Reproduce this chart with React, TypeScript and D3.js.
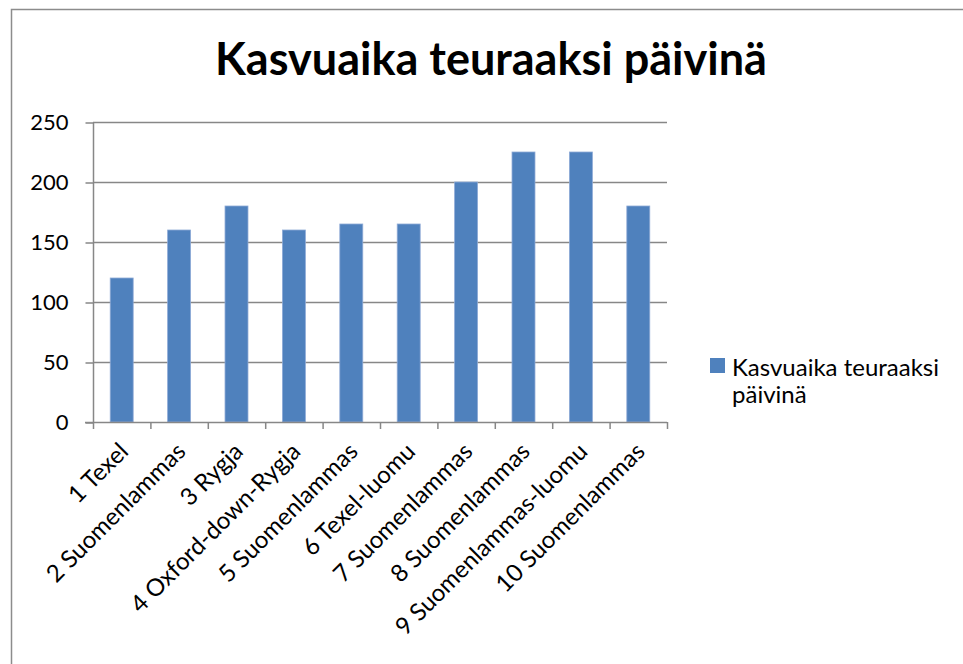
import React, {useEffect, useRef} from 'react';
import * as d3 from 'd3';

const categories = ['1 Texel', '2 Suomenlammas', '3 Rygja', '4 Oxford-down-Rygja', '5 Suomenlammas', '6 Texel-luomu', '7 Suomenlammas', '8 Suomenlammas', '9 Suomenlammas-luomu', '10 Suomenlammas'];
const values = [120, 160, 180, 160, 165, 165, 200, 225, 225, 180];
const yTicks = [0, 50, 100, 150, 200, 250];
const title = 'Kasvuaika teuraaksi päivinä';
const seriesName = ['Kasvuaika teuraaksi', 'päivinä'];

const FONT = 'Lato, "Open Sans", sans-serif';

export default function App() {
  const svgRef = useRef<SVGSVGElement>(null);

  useEffect(() => {
    const svg = d3.select(svgRef.current);
    svg.selectAll('*').remove();

    // chart frame
    svg.append('rect')
      .attr('x', 11.5).attr('y', 9.5).attr('width', 1000).attr('height', 1000)
      .attr('fill', '#fff').attr('stroke', '#8c8c8c').attr('stroke-width', 1.5);

    const left = 93, right = 667, top = 122, bottom = 422;
    const x = d3.scaleBand().domain(categories).range([left, right]).paddingInner(0.6).paddingOuter(0.3);
    const xb = d3.scaleBand().domain(categories).range([left, right]);
    const y = d3.scaleLinear().domain([0, 250]).range([bottom, top]);

    svg.append('text')
      .attr('x', 491).attr('y', 75)
      .attr('text-anchor', 'middle')
      .style('font-family', FONT).style('font-weight', 700).style('font-size', '45px')
      .text(title);

    // gridlines
    svg.append('g').selectAll('line').data(yTicks.filter(d => d > 0)).join('line')
      .attr('x1', left).attr('x2', right)
      .attr('y1', d => y(d) + 0.5).attr('y2', d => y(d) + 0.5)
      .attr('stroke', '#878787').attr('stroke-width', 1.5);

    svg.append('g').selectAll('rect').data(values).join('rect')
      .attr('x', (d, i) => x(categories[i])!)
      .attr('width', x.bandwidth())
      .attr('y', d => y(d))
      .attr('height', d => bottom - y(d))
      .attr('fill', '#4f81bd')
      .attr('stroke', '#8eaad6').attr('stroke-width', 0.8);

    // y axis
    const yAxis = svg.append('g').attr('transform', `translate(${left + 0.5},0.5)`)
      .call(d3.axisLeft(y).tickValues(yTicks).tickSize(8).tickPadding(17));
    yAxis.select('.domain').attr('stroke', '#878787').attr('stroke-width', 1.5).attr('d', `M0,${top}V${bottom}`);
    yAxis.selectAll('.tick line').attr('stroke', '#878787').attr('stroke-width', 1.5);
    yAxis.selectAll('.tick text').style('font-family', FONT).style('font-size', '22px').attr('fill', '#000');

    // x axis
    const xg = svg.append('g');
    xg.append('line').attr('x1', left - 8).attr('x2', right).attr('y1', bottom + 0.5).attr('y2', bottom + 0.5)
      .attr('stroke', '#878787').attr('stroke-width', 1.5);
    const bounds = categories.map(c => xb(c)!).concat([right]);
    xg.selectAll('line.tk').data(bounds).join('line').attr('class', 'tk')
      .attr('x1', d => d + 0.5).attr('x2', d => d + 0.5)
      .attr('y1', bottom).attr('y2', bottom + 7)
      .attr('stroke', '#878787').attr('stroke-width', 1.5);
    xg.selectAll('text').data(categories).join('text')
      .attr('transform', c => `translate(${xb(c)! + xb.bandwidth() / 2 + 2},${bottom + 25}) rotate(-45)`)
      .attr('text-anchor', 'end')
      .attr('dy', '0.35em')
      .style('font-family', FONT).style('font-size', '24px')
      .text(c => c);

    // legend
    svg.append('rect').attr('x', 710).attr('y', 358).attr('width', 15).attr('height', 15).attr('fill', '#4f81bd');
    svg.append('text').attr('x', 732).attr('y', 376)
      .style('font-family', FONT).style('font-size', '24px')
      .selectAll('tspan').data(seriesName).join('tspan')
      .attr('x', 732).attr('dy', (d, i) => i === 0 ? 0 : 27)
      .text(d => d);
  }, []);

  return (
    <svg ref={svgRef} width={963} height={664} style={{position: 'absolute', left: 0, top: 0}} />
  );
}
